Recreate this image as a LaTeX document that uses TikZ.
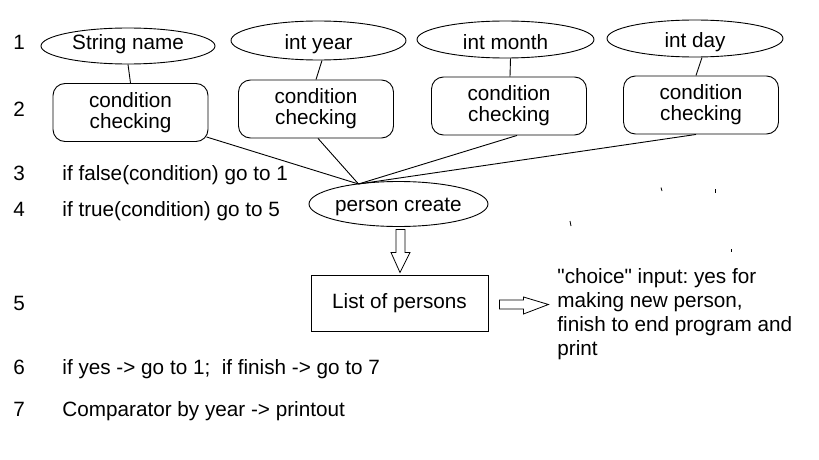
\documentclass[tikz,border=0pt]{standalone}
\usepackage{fontspec}
\setmainfont[Ligatures=TeXOff]{Liberation Sans}
\usetikzlibrary{calc,shapes.geometric}
\begin{document}
\frenchspacing
\begin{tikzpicture}[x=1pt,y=-1pt,line width=0.9pt,
  every node/.style={font=\fontsize{20.7}{24}\selectfont, inner sep=0pt},
  field/.style={draw, ellipse, minimum width=175pt, minimum height=37pt, text height=20pt, text depth=1pt},
  checkbox/.style={draw, rounded corners=12pt, minimum width=155pt, minimum height=58pt, align=center, font=\fontsize{20.7}{21}\selectfont},
  lbl/.style={anchor=base west},
  hollow/.style={draw, line width=0.8pt, fill=white, line join=miter},
  speck/.style={line width=0.8pt}]
\useasboundingbox (0,0) rectangle (819,460);

% row 1: fields
\node[field, minimum width=174pt, minimum height=36pt] (e1) at (128,46) {\raisebox{5.5pt}{String name}};
\node[field, minimum height=39pt] (e2) at (318.5,40.5) {int year};
\node[field, minimum width=177pt] (e3) at (505.5,39.5) {int month};
\node[field, minimum width=176pt] (e4) at (695,38.5) {int day};

% row 2: condition checks
\node[checkbox] (b1) at (130.5,112.5) {condition\\checking};
\node[checkbox] (b2) at (316,109) {condition\\checking};
\node[checkbox] (b3) at (509,106) {condition\\checking};
\node[checkbox] (b4) at (701,105) {condition\\checking};

% person create and list
\node[draw, ellipse, minimum width=153pt, minimum height=45pt, text height=16pt, text depth=2pt] (pc) at (398.5,204) {person create};
\node[draw, minimum width=177pt, minimum height=56pt] (lp) at (399.5,303) {List of persons};
\node[anchor=north west, align=left] (ch) at (557,268.5) {"choice" input: yes for\\making new person,\\finish to end program and\\print};

% left column
\node[lbl] (n1) at (13,50) {1};
\node[lbl] (n2) at (13,116.7) {2};
\node[lbl] (n3) at (13,180.7) {3};
\node[lbl] (n4) at (13,216) {4};
\node[lbl] (n5) at (13,310.7) {5};
\node[lbl] (n6) at (13,374) {6};
\node[lbl] (n7) at (13,416.7) {7};
\node[lbl] (t3) at (62,180.7) {if false(condition) go to 1};
\node[lbl] (t4) at (62,216) {if true(condition) go to 5};
\node[lbl] (t6) at (62,374) {if yes -> go to 1;\ \ if finish -> go to 7};
\node[lbl] (t7) at (62,416.7) {Comparator by year -> printout};

% connectors field -> check
\draw (e1.south) -- (b1.north);
\draw ($(e2.south)+(3.5,0)$) -- (b2.north);
\draw ($(e3.south)+(5,0)$) -- ($(b3.north)+(1,0)$);
\draw ($(e4.south)+(7,0)$) -- ($(b4.north)+(-5,0)$);

% connectors check -> person create
\coordinate (conv) at ($(pc.center)+(-40,-20)$);
\draw ($(b1.south east)+(-2,-5)$) -- (conv);
\draw ($(b2.south)+(2,0)$) -- (conv);
\draw ($(b3.south)+(8,0)$) -- (conv);
\draw ($(b4.south)+(-5,0)$) -- (conv);

% hollow arrows
\draw[hollow] ($(pc.south)+(-2.5,2.5)$) -- ++(9,0) -- ++(0,23) -- ++(5,0)
  -- ($(lp.north)+(0.5,-2)$) -- ($(pc.south)+(-7.5,25.5)$) -- ++(5,0) -- cycle;
\draw[hollow] ($(lp.east)+(11,-3)$) -- ++(24,0) -- ++(0,-3) -- ($(lp.east)+(60,1.5)$)
  -- ($(lp.east)+(35,11)$) -- ++(0,-5) -- ++(-24,0) -- cycle;

% stray specks
\draw[speck] (661,187.5) -- (662,191);
\draw[speck] (715,189) -- (715,193);
\draw[speck] (570,221) -- (571,226);
\draw[speck] (731,249) -- (731,252);
\end{tikzpicture}
\end{document}
